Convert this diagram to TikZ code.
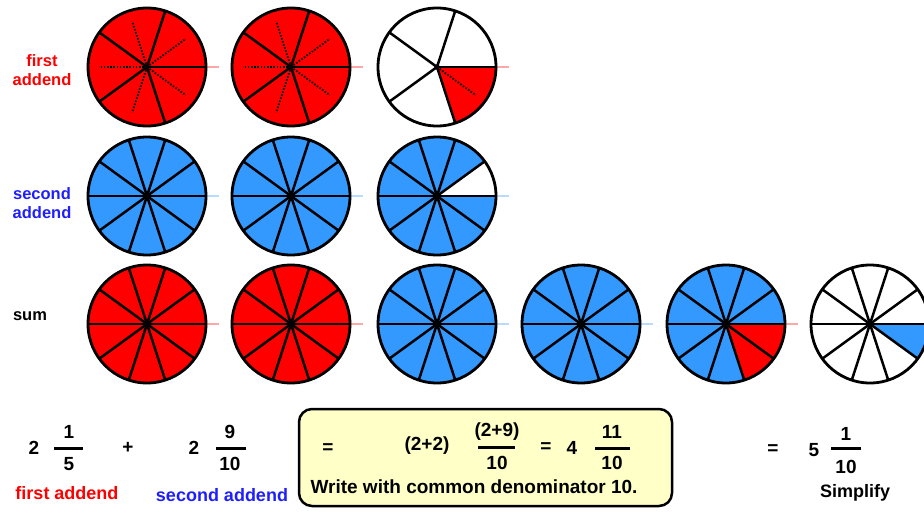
\documentclass[tikz,border=0pt]{standalone}
\usepackage{fontspec}
\setmainfont{Liberation Sans}
\definecolor{pred}{RGB}{255,0,0}
\definecolor{pblue}{RGB}{51,153,255}
\definecolor{lblue}{RGB}{30,30,255}
\definecolor{boxy}{RGB}{255,255,200}
\tikzset{
  outline/.style={line width=2.8pt},
  spoke/.style={line width=2.5pt},
  dotspoke/.style={line width=1.8pt, dash pattern=on 1.6pt off 1.6pt},
  stub/.style={line width=1.5pt, opacity=0.35},
  hub/.style={fill=black},
  bar/.style={line width=3pt},
  big/.style={font=\bfseries\fontsize{19}{22}\selectfont, inner sep=0pt},
  lab/.style={font=\bfseries\fontsize{18}{21}\selectfont, inner sep=0pt},
  side/.style={font=\bfseries\fontsize{16.5}{19.5}\selectfont, inner sep=0pt, align=center},
  workbox/.style={draw=black, line width=2.5pt, fill=boxy, rounded corners=13pt},
}
\begin{document}
\begin{tikzpicture}[x=1pt,y=-1pt]
\useasboundingbox (0,0) rectangle (924,512);
\clip (0,0) rectangle (924,512);
% circle centres
\coordinate (a1) at (147,67);
\coordinate (a2) at (291,67);
\coordinate (a3) at (437,67);
\coordinate (b1) at (147,196);
\coordinate (b2) at (291,196);
\coordinate (b3) at (437,196);
\coordinate (s1) at (147,324);
\coordinate (s2) at (291,324);
\coordinate (s3) at (437,324);
\coordinate (s4) at (581,324);
\coordinate (s5) at (726,324);
\coordinate (s6) at (870,324);
% fills
\foreach \c in {a1,a2,s1,s2} \fill[pred] (\c) circle[radius=59pt];
\foreach \c in {b1,b2,b3,s3,s4,s5} \fill[pblue] (\c) circle[radius=59pt];
\fill[white] (b3) -- ++(0:59pt) arc[start angle=0,end angle=36,radius=59pt] -- cycle;
\fill[pred] (a3) -- ++(-72:59pt) arc[start angle=-72,end angle=0,radius=59pt] -- cycle;
\fill[pred] (s5) -- ++(-72:59pt) arc[start angle=-72,end angle=0,radius=59pt] -- cycle;
\fill[pblue] (s6) -- ++(-36:59pt) arc[start angle=-36,end angle=0,radius=59pt] -- cycle;
% stubs
\foreach \c/\col in {a1/pred,a2/pred,a3/pred,b1/pblue,b2/pblue,b3/pblue,s1/pred,s2/pred,s3/pblue,s4/pblue,s5/pred}
  \draw[stub,\col] ([xshift=60pt]\c) -- ++(12pt,0pt);
% spokes
\foreach \c in {a1,a2,a3} \foreach \a in {0,72,...,288} \draw[spoke] (\c) -- ++(\a:59pt);
\foreach \c in {a1,a2} \foreach \a in {36,108,...,324} \draw[dotspoke] (\c) -- ++(\a:48pt);
\draw[dotspoke] (a3) -- ++(-36:48pt);
\foreach \c in {b1,b2,b3,s1,s2,s3,s4,s5,s6} \foreach \a in {0,36,...,324} \draw[spoke] (\c) -- ++(\a:59pt);
% outlines and hubs
\foreach \c in {a1,a2,a3,b1,b2,b3,s1,s2,s3,s4,s5,s6} {
  \draw[outline] (\c) circle[radius=59pt];
  \fill[hub] (\c) circle[radius=2.8pt];
}
% side labels
\node[side, text=pred] (lfirst) at (42,70) {first\\addend};
\node[side, text=lblue] (lsecond) at (42,203) {second\\addend};
\node[side] (lsum) at (30,316) {sum};
% bottom: first addend
\node[big] (w1) at (34,448) {2};
\node[big] (n1) at (69,432) {1};
\draw[bar] (54,448) -- (83,448);
\node[big] (d1) at (69,464) {5};
\node[big] (plus) at (128,448) {+};
\node[big] (w2) at (194,448) {2};
\node[big] (n2) at (230,432) {9};
\draw[bar] (216,448) -- (246,448);
\node[big] (d2) at (230,464) {10};
\node[lab, text=pred] (tfirst) at (67,493) {first addend};
\node[lab, text=lblue] (tsecond) at (222,495) {second addend};
% box
\draw[workbox] (299,409) rectangle (672,506);
\node[big] (eq1) at (328,449) {=};
\node[big] (sum22) at (427,446) {(2+2)};
\node[big] (n3) at (497,432) {(2+9)};
\draw[bar] (478,447) -- (515,447);
\node[big] (d3) at (497,463) {10};
\node[big] (eq2) at (546,448) {=};
\node[big] (w4) at (572,448) {4};
\node[big] (n4) at (612,432) {11};
\draw[bar] (595,448) -- (630,448);
\node[big] (d4) at (612,463) {10};
\node[big] (tcommon) at (474,487) {Write with common denominator 10.};
% simplify
\node[big] (eq3) at (773,450) {=};
\node[big] (w5) at (814,450) {5};
\node[big] (n5) at (846,434) {1};
\draw[bar] (831,448) -- (861,448);
\node[big] (d5) at (846,467) {10};
\node[lab] (tsimp) at (855,493) {Simplify};
\end{tikzpicture}
\end{document}
